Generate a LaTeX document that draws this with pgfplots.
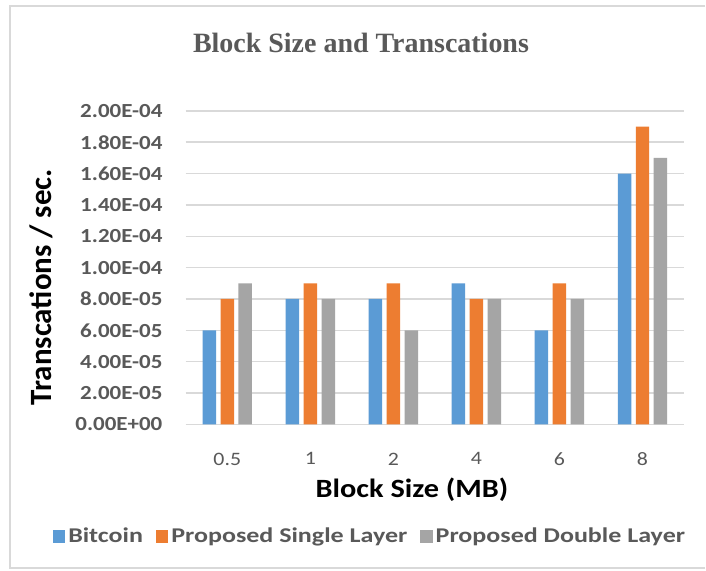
\documentclass[border=0pt]{standalone}
\usepackage{pgfplots}
\pgfplotsset{compat=1.18}
\usepackage{fontspec}
\setmainfont{Carlito}
\newfontfamily\calw[FakeStretch=1.15]{Carlito}
\newfontfamily\calwide[FakeStretch=1.24]{Carlito}
\newfontfamily\titlefont{Liberation Serif}

\definecolor{cBlue}{HTML}{5B9BD5}
\definecolor{cOrange}{HTML}{ED7D31}
\definecolor{cGray}{HTML}{A5A5A5}
\definecolor{txtGray}{HTML}{595959}
\definecolor{gridGray}{HTML}{D9D9D9}

\begin{document}
\begin{tikzpicture}
% chart area
\fill[white] (0,0) rectangle (353pt,285.5pt);
\draw[gridGray, line width=1pt] (353pt,282.4pt) -- (5pt,282.4pt) -- (5pt,1pt) -- (353pt,1pt);

\begin{axis}[
  at={(93pt,73pt)}, anchor=south west,
  scale only axis,
  width=249.5pt, height=157pt,
  ybar=2.25pt, bar width=6.75pt,
  xmin=-0.5, xmax=5.5,
  ymin=0, ymax=0.0002,
  axis line style={draw=none},
  major tick length=0pt,
  xtick={0,1,2,3,4,5},
  xticklabels={0.5,1,2,4,6,8},
  ytick={0,0.00002,0.00004,0.00006,0.00008,0.0001,0.00012,0.00014,0.00016,0.00018,0.0002},
  yticklabels={0.00E+00,2.00E-05,4.00E-05,6.00E-05,8.00E-05,1.00E-04,1.20E-04,1.40E-04,1.60E-04,1.80E-04,2.00E-04},
  scaled y ticks=false,
  ymajorgrids,
  grid style={gridGray, line width=0.75pt},
  yticklabel style={font=\calw\bfseries\fontsize{10}{12}\selectfont, text=txtGray, anchor=east, inner sep=0pt, xshift=-11.5pt},
  xticklabel style={font=\calw\fontsize{9.5}{11}\selectfont, text=txtGray, anchor=north, inner sep=0pt, yshift=-14pt},
  xlabel={Block Size (MB)},
  xlabel style={font=\calw\bfseries\fontsize{13.2}{15}\selectfont, text=black, at={(axis description cs:0.454,-0.2325)}, anchor=base, inner sep=0pt},
  ylabel={Transcations / sec.},
  ylabel style={font=\bfseries\fontsize{15.5}{18}\selectfont, text=black, at={(axis description cs:-0.2685,0.438)}, anchor=base, inner sep=0pt},
  legend columns=3,
  legend style={draw=none, fill=none, at={(axis description cs:0.3707,-0.3567)}, anchor=center,
    font=\calwide\bfseries\fontsize{10.5}{12}\selectfont, text=txtGray,
    /tikz/every even column/.append style={column sep=5pt},
    nodes={inner sep=1.5pt}},
  legend image code/.code={\fill[#1] (0pt,-3.2pt) rectangle (6.2pt,3.2pt);},
  clip=false,
]
\addplot[fill=cBlue, draw=none] coordinates {(0,0.00006) (1,0.00008) (2,0.00008) (3,0.00009) (4,0.00006) (5,0.00016)};
\addplot[fill=cOrange, draw=none] coordinates {(0,0.00008) (1,0.00009) (2,0.00009) (3,0.00008) (4,0.00009) (5,0.00019)};
\addplot[fill=cGray, draw=none] coordinates {(0,0.00009) (1,0.00008) (2,0.00006) (3,0.00008) (4,0.00008) (5,0.00017)};
\legend{Bitcoin, Proposed Single Layer, Proposed Double Layer}
% chart title
\node[font=\titlefont\bfseries\fontsize{14}{16}\selectfont, text=txtGray, anchor=base, inner sep=0pt]
  at (axis description cs:0.3517,1.1847) {Block Size and Transcations};
\end{axis}
\end{tikzpicture}
\end{document}
